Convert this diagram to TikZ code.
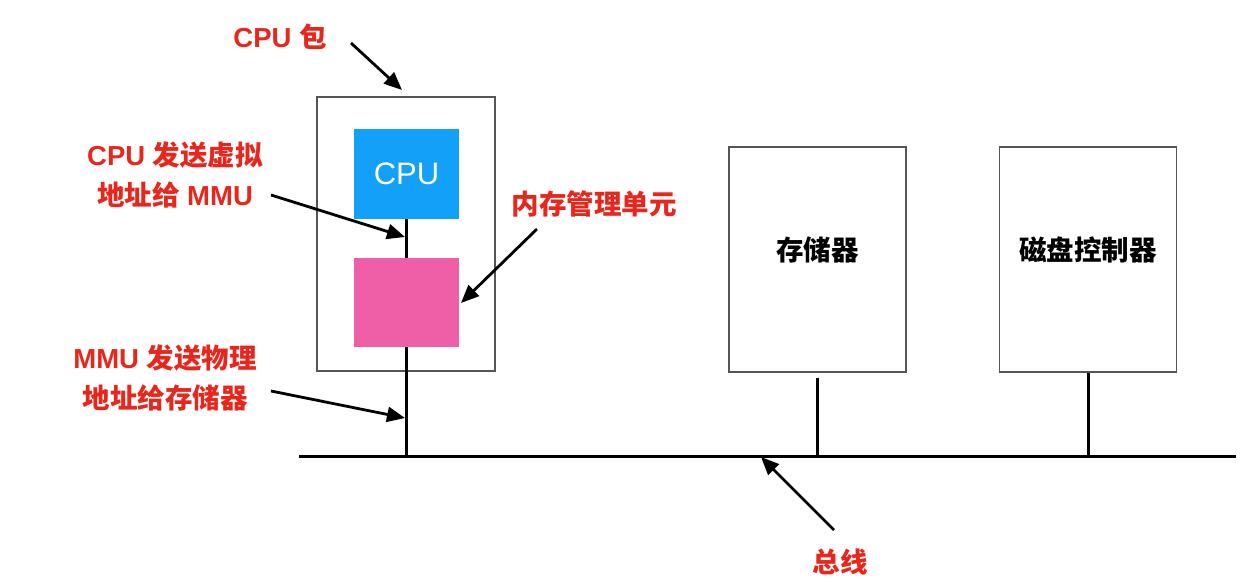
\documentclass[tikz,border=0pt]{standalone}
\usepackage{fontspec}
\setmainfont{Liberation Sans}
\newfontfamily\cjk{Noto Sans CJK SC}
\usetikzlibrary{arrows.meta}
\definecolor{lred}{HTML}{E8261C}
\definecolor{cpublue}{HTML}{12A0F8}
\definecolor{mmupink}{HTML}{EE5FA7}
\definecolor{boxgray}{HTML}{555555}
\begin{document}
\begin{tikzpicture}[x=1pt,y=-1pt,
  box/.style={draw=boxgray,line width=1.3pt,minimum width=177pt,minimum height=225pt,inner sep=0pt},
  conn/.style={line width=3pt,black},
  callout/.style={line width=2.8pt,black,-{Triangle[length=18pt,width=15pt]}},
  redlbl/.style={text=lred,font=\fontsize{27.5}{40}\selectfont\bfseries,align=center,inner sep=0pt},
  blacklbl/.style={font=\fontsize{27.5}{32}\selectfont\cjk\bfseries,inner sep=0pt}]
\useasboundingbox (0,0) rectangle (1256,580);
% CPU package
\node[draw=boxgray,line width=1.3pt,minimum width=178pt,minimum height=274pt,inner sep=0pt] (pkg) at (406,234) {};
\node[fill=cpublue,minimum width=105pt,minimum height=90pt,inner sep=0pt,text=white,font=\fontsize{31}{31}\selectfont] (cpu) at (406.5,174) {CPU};
\node[fill=mmupink,minimum width=105pt,minimum height=89pt,inner sep=0pt] (mmu) at (406.5,302.5) {};
% memory and disk controller
\node[box] (mem) at (817.5,259.5) {};
\node[blacklbl] at (mem.center) [yshift=10pt] {存储器};
\node[box] (disk) at (1088,259.5) {};
\node[blacklbl] at (disk.center) [yshift=10pt] {磁盘控制器};
% bus
\coordinate (busL) at (299,456);
\coordinate (busR) at (1236,456);
\draw[conn] (busL) -- (busR);
\draw[conn] (cpu.south) -- (mmu.north);
\draw[conn] (mmu.south) -- (mmu.south |- busL);
\draw[conn] ([yshift=-5pt]mem.south) -- (mem.south |- busL);
\draw[conn] (disk.south) -- (disk.south |- busL);
% labels
\node[redlbl] (lpkg) at (280,37) {CPU {\cjk 包}};
\node[redlbl] (lcpu) at (175,175) {CPU {\cjk 发送虚拟}\\{\cjk 地址给} MMU};
\node[redlbl] (lmmu) at (594,204) {\cjk 内存管理单元};
\node[redlbl] (lphy) at (165,378) {MMU {\cjk 发送物理}\\{\cjk 地址给存储器}};
\node[redlbl] (lbus) at (840,562) {\cjk 总线};
% arrows
\coordinate (a1s) at (351,43); \coordinate (a1e) at (402,90);
\coordinate (a2s) at (271,195); \coordinate (a2e) at (405,237);
\coordinate (a3s) at (537,229); \coordinate (a3e) at (461,303);
\coordinate (a4s) at (271,391); \coordinate (a4e) at (405,418);
\coordinate (a5s) at (834,530); \coordinate (a5e) at (761,457);
\draw[callout] (a1s) -- (a1e);
\draw[callout] (a2s) -- (a2e);
\draw[callout] (a3s) -- (a3e);
\draw[callout] (a4s) -- (a4e);
\draw[callout] (a5s) -- (a5e);
\end{tikzpicture}
\end{document}
